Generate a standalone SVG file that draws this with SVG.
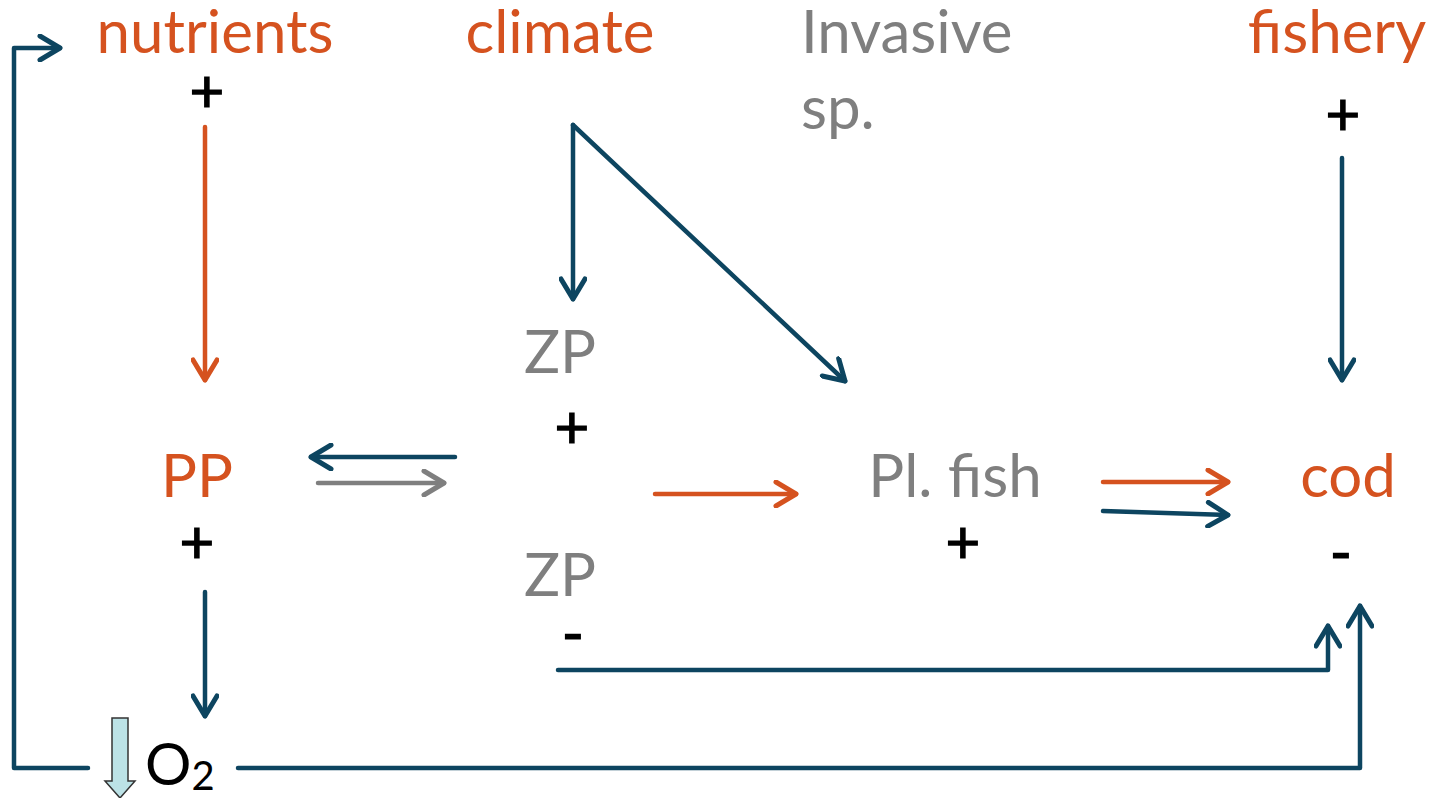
<svg xmlns="http://www.w3.org/2000/svg" width="1430" height="798" viewBox="0 0 1430 798">
<style>
.lbl{font-family:Lato,"Liberation Sans",sans-serif;font-size:60px;text-anchor:middle}
.or{fill:#D5521F}
.gr{fill:#7F7F7F}
.sg{font-family:Lato,"Liberation Sans",sans-serif;font-size:60px;fill:#000;text-anchor:middle;stroke:#000;stroke-width:1.2}
.c{fill:none;stroke-width:4.5;stroke-linecap:round;stroke-linejoin:round}
.b{stroke:#0D4560}
.o{stroke:#D5521F}
.g{stroke:#7F7F7F}
</style>
<defs>
<marker id="mb" markerUnits="userSpaceOnUse" viewBox="-24 -14 28 28" markerWidth="28" markerHeight="28" refX="0" refY="0" orient="auto"><path d="M-20,-12 L0,0 L-20,12" fill="none" stroke="#0D4560" stroke-width="5" stroke-linecap="round" stroke-linejoin="round"/></marker>
<marker id="mo" markerUnits="userSpaceOnUse" viewBox="-24 -14 28 28" markerWidth="28" markerHeight="28" refX="0" refY="0" orient="auto"><path d="M-20,-12 L0,0 L-20,12" fill="none" stroke="#D5521F" stroke-width="5" stroke-linecap="round" stroke-linejoin="round"/></marker>
<marker id="mg" markerUnits="userSpaceOnUse" viewBox="-24 -14 28 28" markerWidth="28" markerHeight="28" refX="0" refY="0" orient="auto"><path d="M-20,-12 L0,0 L-20,12" fill="none" stroke="#7F7F7F" stroke-width="5" stroke-linecap="round" stroke-linejoin="round"/></marker>
</defs>
<rect width="1430" height="798" fill="#fff"/>
<g id="connectors">
<path class="c o" d="M205,127 V380" marker-end="url(#mo)"/>
<path class="c b" d="M573,125 V299" marker-end="url(#mb)"/>
<path class="c b" d="M573,125 L845,381" marker-end="url(#mb)"/>
<path class="c b" d="M1342,158 V380" marker-end="url(#mb)"/>
<path class="c b" d="M455,457 H311" marker-end="url(#mb)"/>
<path class="c g" d="M318,483 H444" marker-end="url(#mg)"/>
<path class="c o" d="M655,494 H796" marker-end="url(#mo)"/>
<path class="c o" d="M1103,482 H1228" marker-end="url(#mo)"/>
<path class="c b" d="M1103,511 L1228,515" marker-end="url(#mb)"/>
<path class="c b" d="M558,670 H1328 V626" marker-end="url(#mb)"/>
<path class="c b" d="M205,592 V716" marker-end="url(#mb)"/>
<path class="c b" d="M238,768 H1360 V606" marker-end="url(#mb)"/>
<path class="c b" d="M88,768 H14 V48 H60" marker-end="url(#mb)"/>
</g>
<g id="nutrients"><text class="lbl or" x="215" y="53">nutrients</text><text class="sg" x="207" y="112">+</text></g>
<g id="climate"><text class="lbl or" x="560" y="53">climate</text></g>
<g id="invasive"><text class="lbl gr" x="801" y="53" style="text-anchor:start">Invasive</text><text class="lbl gr" x="801" y="129" style="text-anchor:start">sp.</text></g>
<g id="fishery"><text class="lbl or" x="1337" y="53">fishery</text><text class="sg" x="1343" y="135">+</text></g>
<g id="zp1"><text class="lbl gr" x="560" y="373">ZP</text><text class="sg" x="572" y="448">+</text></g>
<g id="pp"><text class="lbl or" x="197" y="497">PP</text><text class="sg" x="197" y="563">+</text></g>
<g id="plfish"><text class="lbl gr" x="955" y="497">Pl. fish</text><text class="sg" x="963" y="563">+</text></g>
<g id="cod"><text class="lbl or" x="1348" y="497">cod</text><text class="sg" x="1341" y="574">-</text></g>
<g id="zp2"><text class="lbl gr" x="560" y="596">ZP</text><text class="sg" x="573" y="655">-</text></g>
<g id="o2">
<path d="M112,718 H128 V781 H135 L120,798 L105,781 H112 Z" fill="#BCE2E6" stroke="#333" stroke-width="1.5" stroke-linejoin="miter"/>
<text x="145" y="785" style="font-family:Lato,'Liberation Sans',sans-serif;font-size:58px;fill:#000">O<tspan dy="5" style="font-size:40px">2</tspan></text>
</g>
</svg>
